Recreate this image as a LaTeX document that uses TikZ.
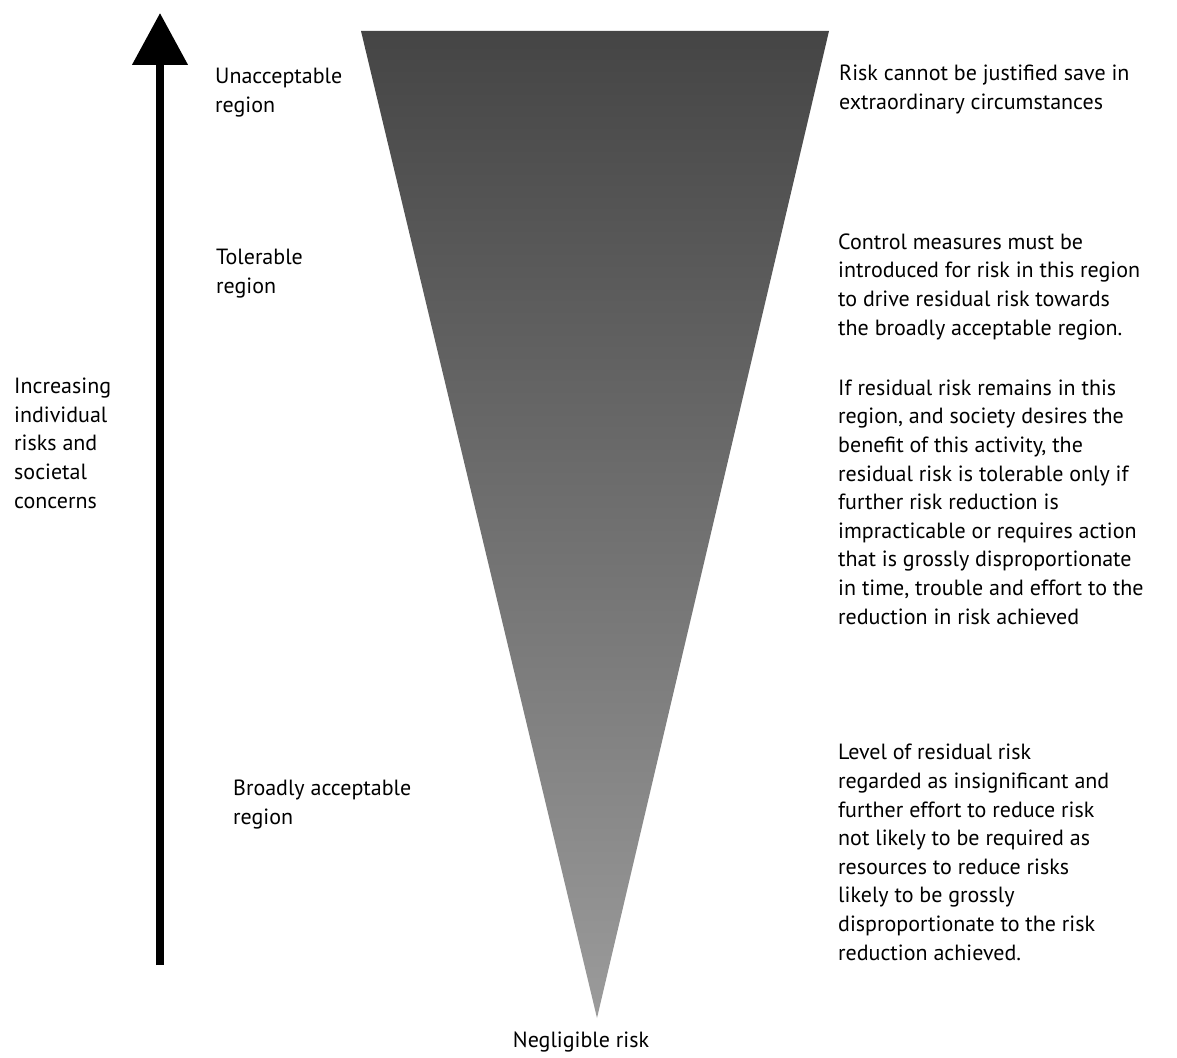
\documentclass[tikz,border=0pt]{standalone}
\usepackage{fontspec}
\setmainfont{PT Sans}
\usetikzlibrary{arrows.meta}
\begin{document}
\begin{tikzpicture}[x=1pt,y=-1pt,
  lbl/.style={anchor=base west,inner sep=0pt,align=left,
    font=\fontsize{22}{28.6}\selectfont}]
\useasboundingbox (0,0) rectangle (1177,1057);
% risk triangle, darker towards the top
\coordinate (tl) at (361,31);
\coordinate (tr) at (829,31);
\coordinate (tip) at (597,1018);
\begin{scope}
  \clip (tl) -- (tr) -- (tip) -- cycle;
  \shade[top color={rgb,255:red,69;green,69;blue,69},
         bottom color={rgb,255:red,155;green,155;blue,155}]
    (361,31) rectangle (829,1018);
\end{scope}
% scale arrow
\coordinate (abot) at (160,965);
\coordinate (atop) at (160,13);
\draw[line width=8pt,-{Triangle[length=52pt,width=54pt]}] (abot) -- (atop);
% region labels (placed by the baseline of their last line)
\node[lbl] (unacc) at (215,112) {Unacceptable\\region};
\node[lbl] (toler) at (216,293) {Tolerable\\region};
\node[lbl] (broad) at (233,824) {Broadly acceptable\\region};
\node[lbl] (incr) at (14,508) {Increasing\\individual\\risks and\\societal\\concerns};
\node[lbl,anchor=base] (negl) at (581,1047) {Negligible risk};
% descriptions
\node[lbl] (d1) at (839,109) {Risk cannot be justified save in\\extraordinary circumstances};
\node[lbl] (d2) at (838,335) {Control measures must be\\introduced for risk in this region\\to drive residual risk towards\\the broadly acceptable region.};
\node[lbl] (d3) at (838,624) {If residual risk remains in this\\region, and society desires the\\benefit of this activity, the\\residual risk is tolerable only if\\further risk reduction is\\impracticable or requires action\\that is grossly disproportionate\\in time, trouble and effort to the\\reduction in risk achieved};
\node[lbl] (d4) at (838,960) {Level of residual risk\\regarded as insignificant and\\further effort to reduce risk\\not likely to be required as\\resources to reduce risks\\likely to be grossly\\disproportionate to the risk\\reduction achieved.};
\end{tikzpicture}
\end{document}
